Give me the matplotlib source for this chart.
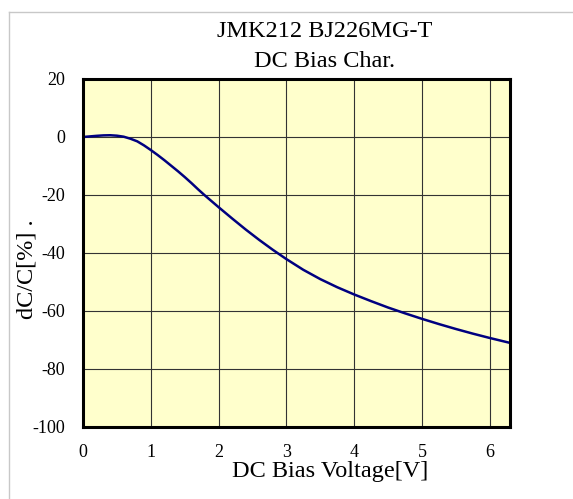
import numpy as np
import matplotlib
matplotlib.use('Agg')
import matplotlib.pyplot as plt
from matplotlib.lines import Line2D

# значения
voltage = [0, 0.1, 0.2, 0.3, 0.4, 0.5, 0.6, 0.7, 0.8, 0.9, 1.0, 1.1, 1.2, 1.3, 1.4, 1.5,
           1.6, 1.7, 1.8, 1.9, 2.0, 2.2, 2.4, 2.6, 2.8, 3.0, 3.25, 3.5, 3.75, 4.0, 4.25,
           4.5, 4.75, 5.0, 5.25, 5.5, 5.75, 6.0, 6.3]
dc = [0, 0.2, 0.4, 0.55, 0.6, 0.45, 0.1, -0.6, -1.5, -2.9, -4.5, -6.2, -8.0, -9.9, -11.8,
      -13.8, -15.9, -18.1, -20.2, -22.2, -24.2, -28.1, -31.9, -35.5, -38.9, -42.1, -45.8,
      -49.0, -51.8, -54.3, -56.6, -58.8, -60.8, -62.7, -64.5, -66.2, -67.8, -69.3, -71.0]

x_ticks = [0, 1, 2, 3, 4, 5, 6]
y_ticks = [20, 0, -20, -40, -60, -80, -100]

plt.rcParams['font.family'] = ['Liberation Serif', 'DejaVu Serif']
plt.rcParams['axes.unicode_minus'] = False

fig = plt.figure(figsize=(5.73, 4.99), dpi=100)
ax = fig.add_axes([0.1449, 0.1443, 0.7452, 0.6974])
ax.set_facecolor('#FFFFCC')

ax.plot(voltage, dc, color='#000080', linewidth=1.8)

ax.set_xlim(0, 6.3)
ax.set_ylim(-100, 20)
ax.set_xticks(x_ticks)
ax.set_yticks(y_ticks)
ax.tick_params(length=0, labelsize=13, pad=12)
ax.tick_params(axis='y', pad=13)
ax.grid(True, color='#333333', linewidth=0.8)
ax.set_axisbelow(True)
for s in ax.spines.values():
    s.set_linewidth(2.2)
    s.set_color('black')

fig.text(0.567, 0.925, 'JMK212 BJ226MG-T', ha='center', va='baseline', fontsize=17.5)
fig.text(0.567, 0.866, 'DC Bias Char.', ha='center', va='baseline', fontsize=17.5)
fig.text(0.577, 0.045, 'DC Bias Voltage[V]', ha='center', va='baseline', fontsize=17.5)
fig.text(0.047, 0.461, 'dC/C[%] .', ha='center', va='center', rotation=90, fontsize=17.5)

# серая рамка сверху и слева
fig.add_artist(Line2D([9 / 573, 9 / 573], [0, 1 - 12 / 499], color='#C8C8C8', linewidth=1))
fig.add_artist(Line2D([9 / 573, 1], [1 - 12 / 499, 1 - 12 / 499], color='#C8C8C8', linewidth=1))

fig.savefig('out.png', dpi=100)
